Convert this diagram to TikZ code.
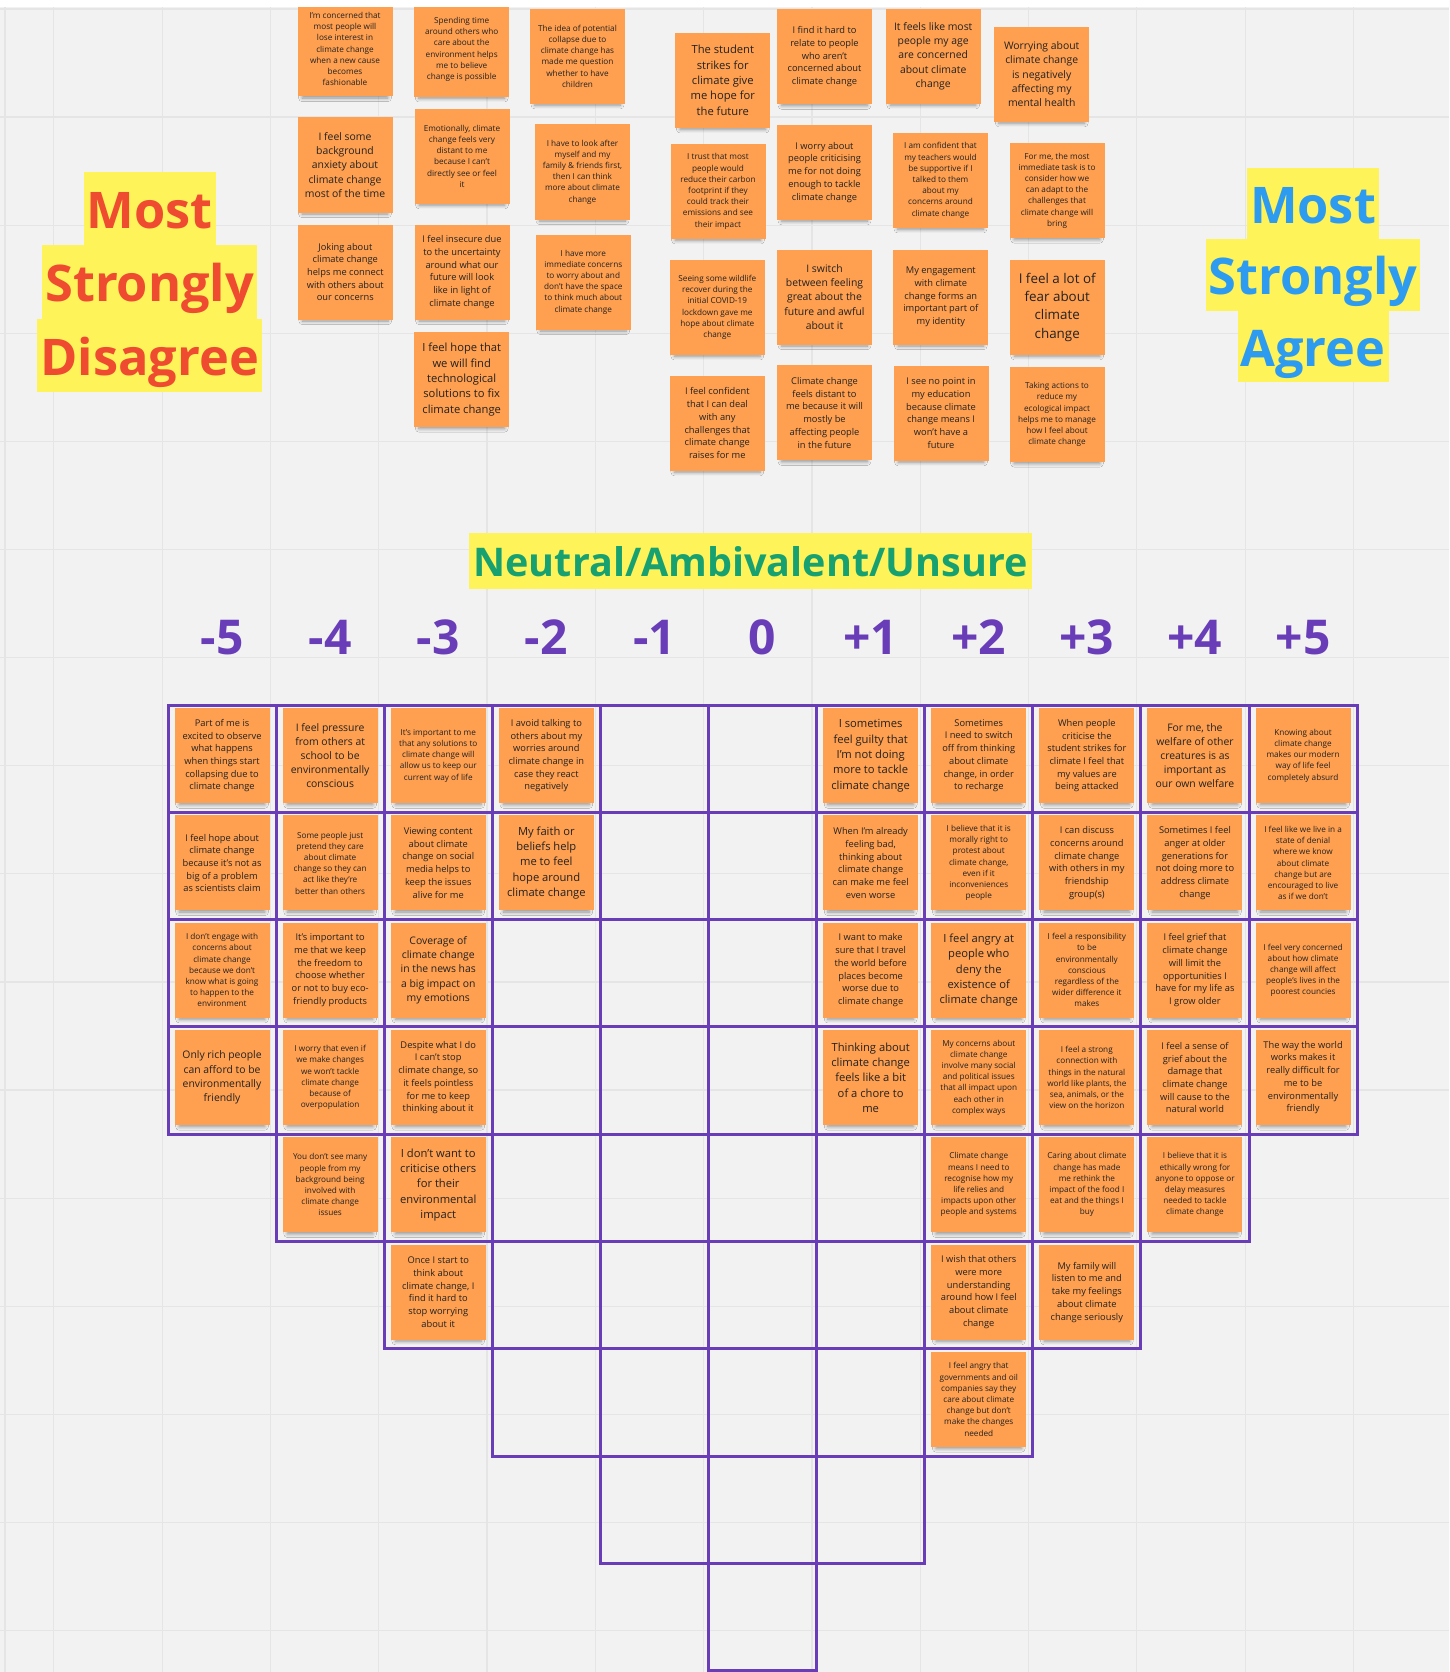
\documentclass[tikz,border=0pt]{standalone}
\usepackage{fontspec}
\setmainfont{Open Sans}
\usetikzlibrary{positioning,shadows.blur}
\definecolor{bggrey}{HTML}{F2F2F2}
\definecolor{faintline}{HTML}{E5E5E5}
\definecolor{gridpurple}{HTML}{6A3DB8}
\definecolor{noteorange}{HTML}{FF9F50}
\definecolor{notetext}{HTML}{222222}
\definecolor{hiyellow}{HTML}{FFF35A}
\definecolor{disred}{HTML}{EE4B30}
\definecolor{agrblue}{HTML}{2D9BF0}
\definecolor{neutgreen}{HTML}{17A170}

\begin{document}
\begin{tikzpicture}[x=1pt,y=-1pt,
  note/.style={fill=noteorange,minimum width=95pt,minimum height=95pt,inner sep=1pt,align=center,text=notetext,
    blur shadow={shadow xshift=0pt,shadow yshift=-7pt,shadow scale=0.9,shadow blur radius=4pt,shadow blur steps=6,shadow opacity=40}},
  gnote/.style={note,yshift=3pt},
  s1/.style={font=\fontsize{8.2}{11.2}\selectfont},
  s2/.style={font=\fontsize{9.3}{12.7}\selectfont},
  s3/.style={font=\fontsize{10.4}{14.2}\selectfont},
  s4/.style={font=\fontsize{11.2}{15.3}\selectfont},
  s5/.style={font=\fontsize{13.4}{18.3}\selectfont},
  faint/.style={draw=faintline,line width=1.2pt},
  cell/.style={draw=gridpurple,line width=3pt},
  colhead/.style={text=gridpurple,font=\bfseries\fontsize{48}{56}\selectfont},
  hilite/.style={fill=hiyellow,inner xsep=3pt,inner ysep=0pt,outer sep=0pt,minimum height=73.4pt,
    text height=44pt,text depth=5pt,font=\bfseries\fontsize{50.5}{60}\selectfont}]

\useasboundingbox (0,0) rectangle (1449,1672);
\fill[bggrey] (0,0) rectangle (1449,1672);
\foreach \k in {0,...,12}
  \draw[faint] ({53.8+108.3*\k},0) -- ++(0,1672);
\draw[faint] (5,0) -- ++(0,1672);
\foreach \k in {0,...,15}
  \draw[faint] (0,{9+108.1*\k}) -- ++(1449,0);

\node[hilite,text=disred] (dis1) at (149.7,208.7) {Most};
\node[hilite,text=disred,below=0pt of dis1] (dis2) {Strongly};
\node[hilite,text=disred,below=0pt of dis2] (dis3) {Disagree};

\node[hilite,text=agrblue,minimum height=71.5pt] (agr1) at (1313,203.5) {Most};
\node[hilite,text=agrblue,minimum height=71.5pt,below=0pt of agr1] (agr2) {Strongly};
\node[hilite,text=agrblue,minimum height=71.5pt,below=0pt of agr2] (agr3) {Agree};

\node[hilite,text=neutgreen,inner xsep=4pt,minimum height=56pt,text height=33pt,text depth=3pt,
  font=\bfseries\fontsize{39.5}{48}\selectfont] (neut) at (750.5,561) {Neutral/Ambivalent/Unsure};

\foreach \lab [count=\i from 0] in {-5,-4,-3,-2,-1,0,+1,+2,+3,+4,+5}
  \node[colhead] (head\i) at ({222.05+108.1*\i},637.6) {\lab};

\foreach \c in {0,...,10}{
  \pgfmathtruncatemacro{\n}{9-abs(\c-5)}
  \foreach \r in {1,...,\n}{
    \draw[cell] ({168+108.1*\c},{705+107.3*(\r-1)}) rectangle ++(108.1,107.3);
    \coordinate (cell-\c-\r) at ({222.05+108.1*\c},{758.65+107.3*(\r-1)});
  }
}

\node[note,s1] (ta1) at (345,49) {I'm concerned that\\most people will\\lose interest in\\climate change\\when a new cause\\becomes\\fashionable};
\node[note,s3] (ta2) at (345,165) {I feel some\\background\\anxiety about\\climate change\\most of the time};
\node[note,s2] (ta3) at (345.3,272) {Joking about\\climate change\\helps me connect\\with others about\\our concerns};
\node[note,s1] (tb1) at (461.7,49.3) {Spending time\\around others who\\care about the\\environment helps\\me to believe\\change is possible};
\node[note,s1] (tb2) at (462,156.2) {Emotionally, climate\\change feels very\\distant to me\\because I can't\\directly see or feel\\it};
\node[note,s2] (tb3) at (462,272) {I feel insecure due\\to the uncertainty\\around what our\\future will look\\like in light of\\climate change};
\node[note,s4] (tb4) at (461.7,379.5) {I feel hope that\\we will find\\technological\\solutions to fix\\climate change};
\node[note,s1] (tc1) at (577.5,56.2) {The idea of potential\\collapse due to\\climate change has\\made me question\\whether to have\\children};
\node[note,s1] (tc2) at (582.5,172) {I have to look after\\myself and my\\family \& friends first,\\then I can think\\more about climate\\change};
\node[note,s1] (tc3) at (583.3,282) {I have more\\immediate concerns\\to worry about and\\don't have the space\\to think much about\\climate change};
\node[note,s4] (td1) at (722.8,80.3) {The student\\strikes for\\climate give\\me hope for\\the future};
\node[note,s1] (td2) at (718,191.3) {I trust that most\\people would\\reduce their carbon\\footprint if they\\could track their\\emissions and see\\their impact};
\node[note,s1] (td3) at (717.3,307.3) {Seeing some wildlife\\recover during the\\initial COVID-19\\lockdown gave me\\hope about climate\\change};
\node[note,s2] (td4) at (717.3,423.2) {I feel confident\\that I can deal\\with any\\challenges that\\climate change\\raises for me};
\node[note,s2] (te1) at (824.5,56.7) {I find it hard to\\relate to people\\who aren't\\concerned about\\climate change};
\node[note,s2] (te2) at (824.5,172.2) {I worry about\\people criticising\\me for not doing\\enough to tackle\\climate change};
\node[note,s3] (te3) at (824.5,297) {I switch\\between feeling\\great about the\\future and awful\\about it};
\node[note,s2] (te4) at (824.5,412.8) {Climate change\\feels distant to\\me because it will\\mostly be\\affecting people\\in the future};
\node[note,s3] (tf1) at (933.2,56.2) {It feels like most\\people my age\\are concerned\\about climate\\change};
\node[note,s1] (tf2) at (940.5,180.3) {I am confident that\\my teachers would\\be supportive if I\\talked to them\\about my\\concerns around\\climate change};
\node[note,s2] (tf3) at (940.8,297) {My engagement\\with climate\\change forms an\\important part of\\my identity};
\node[note,s2] (tf4) at (941,413.2) {I see no point in\\my education\\because climate\\change means I\\won't have a\\future};
\node[note,s3] (tg1) at (1041.7,74.2) {Worrying about\\climate change\\is negatively\\affecting my\\mental health};
\node[note,s1] (tg2) at (1057,190.5) {For me, the most\\immediate task is to\\consider how we\\can adapt to the\\challenges that\\climate change will\\bring};
\node[note,s5] (tg3) at (1057.2,307.2) {I feel a lot of\\fear about\\climate\\change};
\node[note,s1] (tg4) at (1057,414.5) {Taking actions to\\reduce my\\ecological impact\\helps me to manage\\how I feel about\\climate change};

\node[gnote,s2] (m5r1) at (cell-0-1) {Part of me is\\excited to observe\\what happens\\when things start\\collapsing due to\\climate change};
\node[gnote,s2] (m5r2) at (cell-0-2) {I feel hope about\\climate change\\because it's not as\\big of a problem\\as scientists claim};
\node[gnote,s1] (m5r3) at (cell-0-3) {I don't engage with\\concerns about\\climate change\\because we don't\\know what is going\\to happen to the\\environment};
\node[gnote,s3] (m5r4) at (cell-0-4) {Only rich people\\can afford to be\\environmentally\\friendly};
\node[gnote,s3] (m4r1) at (cell-1-1) {I feel pressure\\from others at\\school to be\\environmentally\\conscious};
\node[gnote,s1] (m4r2) at (cell-1-2) {Some people just\\pretend they care\\about climate\\change so they can\\act like they're\\better than others};
\node[gnote,s2] (m4r3) at (cell-1-3) {It's important to\\me that we keep\\the freedom to\\choose whether\\or not to buy eco-\\friendly products};
\node[gnote,s1] (m4r4) at (cell-1-4) {I worry that even if\\we make changes\\we won't tackle\\climate change\\because of\\overpopulation};
\node[gnote,s1] (m4r5) at (cell-1-5) {You don't see many\\people from my\\background being\\involved with\\climate change\\issues};
\node[gnote,s1] (m3r1) at (cell-2-1) {It's important to me\\that any solutions to\\climate change will\\allow us to keep our\\current way of life};
\node[gnote,s2] (m3r2) at (cell-2-2) {Viewing content\\about climate\\change on social\\media helps to\\keep the issues\\alive for me};
\node[gnote,s3] (m3r3) at (cell-2-3) {Coverage of\\climate change\\in the news has\\a big impact on\\my emotions};
\node[gnote,s2] (m3r4) at (cell-2-4) {Despite what I do\\I can't stop\\climate change, so\\it feels pointless\\for me to keep\\thinking about it};
\node[gnote,s4] (m3r5) at (cell-2-5) {I don't want to\\criticise others\\for their\\environmental\\impact};
\node[gnote,s2] (m3r6) at (cell-2-6) {Once I start to\\think about\\climate change, I\\find it hard to\\stop worrying\\about it};
\node[gnote,s2] (m2r1) at (cell-3-1) {I avoid talking to\\others about my\\worries around\\climate change in\\case they react\\negatively};
\node[gnote,s4] (m2r2) at (cell-3-2) {My faith or\\beliefs help\\me to feel\\hope around\\climate change};

\node[gnote,s4] (p1r1) at (cell-6-1) {I sometimes\\feel guilty that\\I'm not doing\\more to tackle\\climate change};
\node[gnote,s2] (p1r2) at (cell-6-2) {When I'm already\\feeling bad,\\thinking about\\climate change\\can make me feel\\even worse};
\node[gnote,s2] (p1r3) at (cell-6-3) {I want to make\\sure that I travel\\the world before\\places become\\worse due to\\climate change};
\node[gnote,s4] (p1r4) at (cell-6-4) {Thinking about\\climate change\\feels like a bit\\of a chore to\\me};
\node[gnote,s2] (p2r1) at (cell-7-1) {Sometimes\\I need to switch\\off from thinking\\about climate\\change, in order\\to recharge};
\node[gnote,s1] (p2r2) at (cell-7-2) {I believe that it is\\morally right to\\protest about\\climate change,\\even if it\\inconveniences\\people};
\node[gnote,s4] (p2r3) at (cell-7-3) {I feel angry at\\people who\\deny the\\existence of\\climate change};
\node[gnote,s1] (p2r4) at (cell-7-4) {My concerns about\\climate change\\involve many social\\and political issues\\that all impact upon\\each other in\\complex ways};
\node[gnote,s1] (p2r5) at (cell-7-5) {Climate change\\means I need to\\recognise how my\\life relies and\\impacts upon other\\people and systems};
\node[gnote,s2] (p2r6) at (cell-7-6) {I wish that others\\were more\\understanding\\around how I feel\\about climate\\change};
\node[gnote,s1] (p2r7) at (cell-7-7) {I feel angry that\\governments and oil\\companies say they\\care about climate\\change but don't\\make the changes\\needed};
\node[gnote,s2] (p3r1) at (cell-8-1) {When people\\criticise the\\student strikes for\\climate I feel that\\my values are\\being attacked};
\node[gnote,s2] (p3r2) at (cell-8-2) {I can discuss\\concerns around\\climate change\\with others in my\\friendship\\group(s)};
\node[gnote,s1] (p3r3) at (cell-8-3) {I feel a responsibility\\to be\\environmentally\\conscious\\regardless of the\\wider difference it\\makes};
\node[gnote,s1] (p3r4) at (cell-8-4) {I feel a strong\\connection with\\things in the natural\\world like plants, the\\sea, animals, or the\\view on the horizon};
\node[gnote,s1] (p3r5) at (cell-8-5) {Caring about climate\\change has made\\me rethink the\\impact of the food I\\eat and the things I\\buy};
\node[gnote,s2] (p3r6) at (cell-8-6) {My family will\\listen to me and\\take my feelings\\about climate\\change seriously};
\node[gnote,s3] (p4r1) at (cell-9-1) {For me, the\\welfare of other\\creatures is as\\important as\\our own welfare};
\node[gnote,s2] (p4r2) at (cell-9-2) {Sometimes I feel\\anger at older\\generations for\\not doing more to\\address climate\\change};
\node[gnote,s2] (p4r3) at (cell-9-3) {I feel grief that\\climate change\\will limit the\\opportunities I\\have for my life as\\I grow older};
\node[gnote,s2] (p4r4) at (cell-9-4) {I feel a sense of\\grief about the\\damage that\\climate change\\will cause to the\\natural world};
\node[gnote,s1] (p4r5) at (cell-9-5) {I believe that it is\\ethically wrong for\\anyone to oppose or\\delay measures\\needed to tackle\\climate change};
\node[gnote,s1] (p5r1) at (cell-10-1) {Knowing about\\climate change\\makes our modern\\way of life feel\\completely absurd};
\node[gnote,s1] (p5r2) at (cell-10-2) {I feel like we live in a\\state of denial\\where we know\\about climate\\change but are\\encouraged to live\\as if we don't};
\node[gnote,s1] (p5r3) at (cell-10-3) {I feel very concerned\\about how climate\\change will affect\\people's lives in the\\poorest councies};
\node[gnote,s2] (p5r4) at (cell-10-4) {The way the world\\works makes it\\really difficult for\\me to be\\environmentally\\friendly};

\fill[white] (0,0) rectangle (1449,7);
\end{tikzpicture}
\end{document}
